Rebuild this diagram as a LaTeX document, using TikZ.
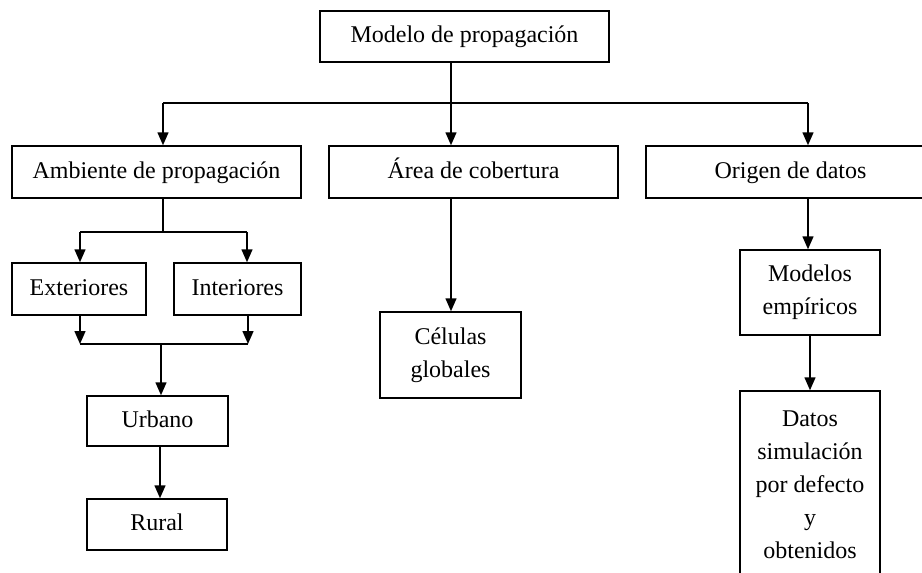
\documentclass[tikz,border=0pt]{standalone}
\usepackage{fontspec}
\setmainfont{Liberation Serif}
\usetikzlibrary{arrows.meta}
\begin{document}
\begin{tikzpicture}[x=1pt,y=-1pt,
  box/.style={draw,line width=1.5pt,inner sep=0pt,align=center,
    font=\fontsize{24}{33}\selectfont},
  one/.style={text height=17pt,text depth=5pt},
  arr/.style={line width=1.5pt,-{Triangle[width=11pt,length=13pt]}},
  ln/.style={line width=1.5pt}]
\useasboundingbox (0,0) rectangle (922,573);
\clip (0,0) rectangle (922,573);
\node[box,one,minimum width=289pt,minimum height=51pt] (top) at (464.5,36.5) {Modelo de propagación};
\node[box,one,minimum width=289pt,minimum height=52pt] (amb) at (156.5,172) {Ambiente de propagación};
\node[box,one,minimum width=289pt,minimum height=52pt] (area) at (473.5,172) {Área de cobertura};
\node[box,one,minimum width=289pt,minimum height=52pt] (orig) at (790.5,172) {Origen de datos};
\node[box,one,minimum width=134pt,minimum height=52pt] (ext) at (79,289) {Exteriores};
\node[box,one,minimum width=127pt,minimum height=52pt] (int) at (237.5,289) {Interiores};
\node[box,one,minimum width=141pt,minimum height=50pt] (urb) at (157.5,421) {Urbano};
\node[box,one,minimum width=140pt,minimum height=51pt] (rur) at (157,524.5) {Rural};
\node[box,minimum width=141pt,minimum height=86pt] (cel) at (450.5,355) {Células\\globales};
\node[box,minimum width=140pt,minimum height=85pt] (mod) at (810,292.5) {Modelos\\empíricos};
\node[box,minimum width=140pt,minimum height=187pt] (dat) at (810,484.5) {Datos\\simulación\\por defecto\\y\\obtenidos};
% top bus
\coordinate (bm) at (451,103);
\coordinate (bl) at (163,103);
\coordinate (br) at (808,103);
\draw[arr] (top.south -| bm) -- (area.north -| bm);
\draw[ln] (bl) -- (br);
\draw[arr] (bl) -- (amb.north -| bl);
\draw[arr] (br) -- (orig.north -| br);
% ambiente branch
\coordinate (a1) at (163,232);
\coordinate (a2) at (80,232);
\coordinate (a3) at (247,232);
\draw[ln] (amb.south -| a1) -- (a1);
\draw[ln] (a2) -- (a3);
\draw[arr] (a2) -- (ext.north -| a2);
\draw[arr] (a3) -- (int.north -| a3);
% merge
\coordinate (m1) at (80,344);
\coordinate (m2) at (248,344);
\coordinate (m3) at (161,344);
\draw[arr] (ext.south -| m1) -- (m1);
\draw[arr] (int.south -| m2) -- (m2);
\draw[ln] (m1) -- (m2);
\draw[arr] (m3) -- (urb.north -| m3);
\coordinate (u1) at (160,446);
\draw[arr] (urb.south -| u1) -- (rur.north -| u1);
% area
\draw[arr] (area.south -| bm) -- (cel.north -| bm);
% origen
\draw[arr] (orig.south -| br) -- (mod.north -| br);
\draw[arr] (mod.south) -- (dat.north);
\end{tikzpicture}
\end{document}
